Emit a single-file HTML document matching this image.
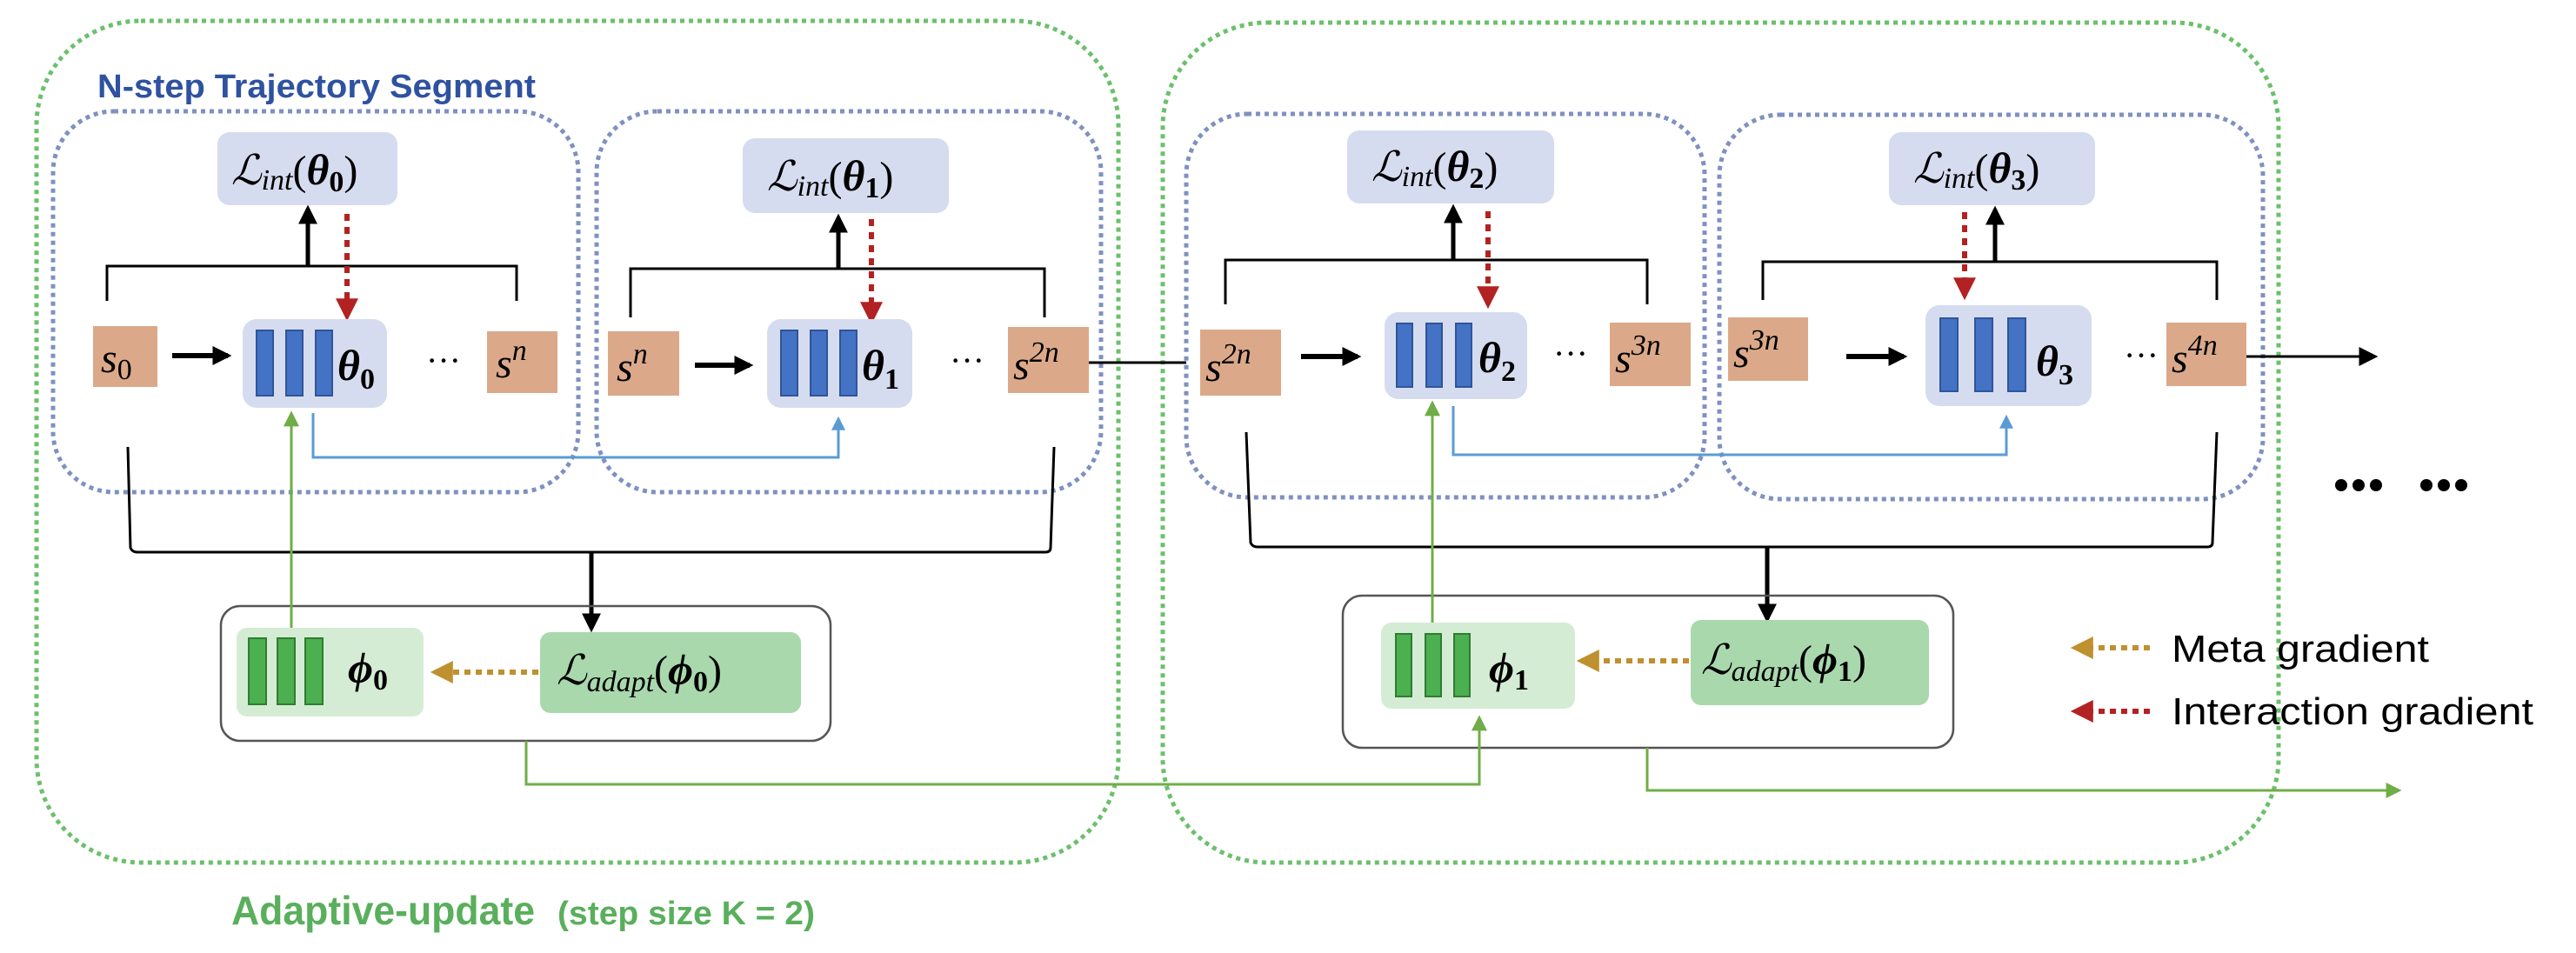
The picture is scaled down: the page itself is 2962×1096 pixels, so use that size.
<!DOCTYPE html>
<html><head><meta charset="utf-8"><style>
html,body{margin:0;padding:0;background:#fff;}
svg{display:block;}
.m{font-family:"Liberation Serif",serif;}
.s{font-family:"Liberation Serif",serif;font-style:italic;font-size:48px;fill:#000;}
.sup{font-style:italic;font-size:34px;}
.th{font-family:"Liberation Serif",serif;font-weight:bold;font-style:italic;font-size:50px;}
.sub{font-size:34px;font-weight:bold;font-style:normal;}
.L{font-family:"Liberation Serif",serif;font-size:48px;}
.sans{font-family:"Liberation Sans",sans-serif;}
</style></head><body>
<svg width="2962" height="1096" viewBox="0 0 2962 1096" xmlns="http://www.w3.org/2000/svg">
<defs>
<marker id="abk" viewBox="0 0 10 10" refX="8" refY="5" markerWidth="22" markerHeight="22" orient="auto" markerUnits="userSpaceOnUse"><path d="M0,0 L10,5 L0,10z" fill="#000"/></marker>
<marker id="ared" viewBox="0 0 10 10" refX="8" refY="5" markerWidth="26" markerHeight="26" orient="auto" markerUnits="userSpaceOnUse"><path d="M0,0 L10,5 L0,10z" fill="#b22222"/></marker>
<marker id="agold" viewBox="0 0 10 10" refX="8" refY="5" markerWidth="26" markerHeight="26" orient="auto" markerUnits="userSpaceOnUse"><path d="M0,0 L10,5 L0,10z" fill="#bf9030"/></marker>
<marker id="ablue" viewBox="0 0 10 10" refX="8" refY="5" markerWidth="16" markerHeight="16" orient="auto" markerUnits="userSpaceOnUse"><path d="M0,0 L10,5 L0,10z" fill="#5b9bd5"/></marker>
<marker id="agreen" viewBox="0 0 10 10" refX="8" refY="5" markerWidth="18" markerHeight="18" orient="auto" markerUnits="userSpaceOnUse"><path d="M0,0 L10,5 L0,10z" fill="#70ad47"/></marker>
</defs>

<rect x="42" y="24" width="1244" height="968" rx="120" fill="none" stroke="#6cc06c" stroke-width="5" stroke-dasharray="5 5"/>
<rect x="1337" y="26" width="1283" height="966" rx="120" fill="none" stroke="#6cc06c" stroke-width="5" stroke-dasharray="5 5"/>

<g fill="none" stroke="#7f91c0" stroke-width="5" stroke-dasharray="5 5">
<rect x="61" y="128" width="604" height="438" rx="70"/>
<rect x="686" y="128" width="580" height="438" rx="70"/>
<rect x="1364" y="131" width="596" height="441" rx="70"/>
<rect x="1977" y="132" width="625" height="442" rx="70"/>
</g>

<text x="112" y="112" class="sans" font-weight="bold" font-size="38" fill="#2f52a0" textLength="504" lengthAdjust="spacingAndGlyphs">N-step Trajectory Segment</text>

<g fill="#d6dcef">
<rect x="250" y="152" width="207" height="84" rx="14"/>
<rect x="854" y="159" width="237" height="86" rx="14"/>
<rect x="1549" y="150" width="238" height="84" rx="14"/>
<rect x="2172" y="152" width="237" height="84" rx="14"/>
</g>
<text x="266" y="212" class="L"><tspan font-style="italic">ℒ</tspan><tspan font-style="italic" font-size="34" dy="6">int</tspan><tspan dy="-6">(</tspan><tspan class="th">θ</tspan><tspan class="sub" dy="8">0</tspan><tspan dy="-8">)</tspan></text>
<text x="882" y="219" class="L"><tspan font-style="italic">ℒ</tspan><tspan font-style="italic" font-size="34" dy="6">int</tspan><tspan dy="-6">(</tspan><tspan class="th">θ</tspan><tspan class="sub" dy="8">1</tspan><tspan dy="-8">)</tspan></text>
<text x="1577" y="208" class="L"><tspan font-style="italic">ℒ</tspan><tspan font-style="italic" font-size="34" dy="6">int</tspan><tspan dy="-6">(</tspan><tspan class="th">θ</tspan><tspan class="sub" dy="8">2</tspan><tspan dy="-8">)</tspan></text>
<text x="2200" y="210" class="L"><tspan font-style="italic">ℒ</tspan><tspan font-style="italic" font-size="34" dy="6">int</tspan><tspan dy="-6">(</tspan><tspan class="th">θ</tspan><tspan class="sub" dy="8">3</tspan><tspan dy="-8">)</tspan></text>

<g fill="none" stroke="#000" stroke-width="3">
<path d="M123,346 V306 H594 V346"/>
<path d="M725,365 V309 H1201 V365"/>
<path d="M1409,350 V299 H1894 V350"/>
<path d="M2027,345 V301 H2549 V345"/>
</g>
<g stroke="#000" stroke-width="5">
<line x1="354" y1="306" x2="354" y2="240" marker-end="url(#abk)"/>
<line x1="964" y1="309" x2="964" y2="250" marker-end="url(#abk)"/>
<line x1="1671" y1="299" x2="1671" y2="239" marker-end="url(#abk)"/>
<line x1="2294" y1="301" x2="2294" y2="241" marker-end="url(#abk)"/>
</g>
<g stroke="#b22222" stroke-width="6" stroke-dasharray="8 7">
<line x1="399" y1="246" x2="399" y2="364" marker-end="url(#ared)"/>
<line x1="1002" y1="252" x2="1002" y2="368" marker-end="url(#ared)"/>
<line x1="1711" y1="243" x2="1711" y2="350" marker-end="url(#ared)"/>
<line x1="2259" y1="244" x2="2259" y2="340" marker-end="url(#ared)"/>
</g>

<g fill="#dba98a">
<rect x="107" y="375" width="74" height="70"/>
<rect x="560" y="381" width="81" height="71"/>
<rect x="699" y="381" width="82" height="74"/>
<rect x="1159" y="376" width="93" height="76"/>
<rect x="1380" y="379" width="93" height="76"/>
<rect x="1851" y="371" width="93" height="73"/>
<rect x="1987" y="365" width="92" height="73"/>
<rect x="2491" y="371" width="92" height="73"/>
</g>
<text x="116" y="428" class="s">s<tspan font-size="34" font-style="normal" dy="8">0</tspan></text>
<text x="570" y="434" class="s">s<tspan class="sup" dy="-20">n</tspan></text>
<text x="709" y="438" class="s">s<tspan class="sup" dy="-20">n</tspan></text>
<text x="1165" y="436" class="s">s<tspan class="sup" dy="-20" font-style="normal">2</tspan><tspan class="sup">n</tspan></text>
<text x="1386" y="438" class="s">s<tspan class="sup" dy="-20" font-style="normal">2</tspan><tspan class="sup">n</tspan></text>
<text x="1857" y="428" class="s">s<tspan class="sup" dy="-20" font-style="normal">3</tspan><tspan class="sup">n</tspan></text>
<text x="1993" y="422" class="s">s<tspan class="sup" dy="-20" font-style="normal">3</tspan><tspan class="sup">n</tspan></text>
<text x="2497" y="428" class="s">s<tspan class="sup" dy="-20" font-style="normal">4</tspan><tspan class="sup">n</tspan></text>

<g fill="#d6dcef">
<rect x="279" y="367" width="166" height="102" rx="16"/>
<rect x="882" y="367" width="167" height="102" rx="16"/>
<rect x="1592" y="359" width="164" height="100" rx="16"/>
<rect x="2214" y="351" width="191" height="116" rx="16"/>
</g>
<g fill="#4472c4" stroke="#2f559a" stroke-width="2">
<rect x="295" y="380" width="19" height="75"/><rect x="329" y="380" width="19" height="75"/><rect x="363" y="380" width="19" height="75"/>
<rect x="898" y="380" width="19" height="75"/><rect x="932" y="380" width="19" height="75"/><rect x="966" y="380" width="19" height="75"/>
<rect x="1606" y="372" width="18" height="73"/><rect x="1640" y="372" width="18" height="73"/><rect x="1674" y="372" width="18" height="73"/>
<rect x="2231" y="366" width="20" height="84"/><rect x="2271" y="366" width="20" height="84"/><rect x="2309" y="366" width="20" height="84"/>
</g>
<text x="388" y="437" class="th">θ<tspan class="sub" dy="10">0</tspan></text>
<text x="991" y="437" class="th">θ<tspan class="sub" dy="10">1</tspan></text>
<text x="1700" y="428" class="th">θ<tspan class="sub" dy="10">2</tspan></text>
<text x="2341" y="432" class="th">θ<tspan class="sub" dy="10">3</tspan></text>

<g font-size="40" class="m">
<text x="490" y="428" class="m">···</text>
<text x="1092" y="428" class="m">···</text>
<text x="1786" y="420" class="m">···</text>
<text x="2442" y="422" class="m">···</text>
</g>

<g stroke="#000" stroke-width="6">
<line x1="198" y1="409" x2="262" y2="409" marker-end="url(#abk)"/>
<line x1="799" y1="420" x2="862" y2="420" marker-end="url(#abk)"/>
<line x1="1496" y1="410" x2="1561" y2="410" marker-end="url(#abk)"/>
<line x1="2123" y1="410" x2="2189" y2="410" marker-end="url(#abk)"/>
</g>
<line x1="1252" y1="417" x2="1364" y2="417" stroke="#000" stroke-width="3"/>
<line x1="2583" y1="410" x2="2730" y2="410" stroke="#000" stroke-width="3" marker-end="url(#abk)"/>

<g fill="#000">
<circle cx="2692" cy="558" r="7"/><circle cx="2712" cy="558" r="7"/><circle cx="2732" cy="558" r="7"/>
<circle cx="2790" cy="558" r="7"/><circle cx="2810" cy="558" r="7"/><circle cx="2830" cy="558" r="7"/>
</g>

<g fill="none" stroke="#5b9bd5" stroke-width="3">
<path d="M360,475 V526 H964 V482" marker-end="url(#ablue)"/>
<path d="M1671,467 V523 H2307 V480" marker-end="url(#ablue)"/>
</g>

<g fill="none" stroke="#000" stroke-width="3">
<path d="M147,514 L150,630 Q152,635 158,635 H1202 Q1208,635 1208,630 L1212,514"/>
<path d="M1433,497 L1438,624 Q1440,629 1446,629 H2538 Q2544,629 2544,624 L2549,497"/>
</g>
<g stroke="#000" stroke-width="5">
<line x1="680" y1="635" x2="680" y2="723" marker-end="url(#abk)"/>
<line x1="2032" y1="629" x2="2032" y2="712" marker-end="url(#abk)"/>
</g>

<rect x="254" y="697" width="701" height="155" rx="22" fill="none" stroke="#555" stroke-width="2.5"/>
<rect x="1544" y="685" width="702" height="175" rx="22" fill="none" stroke="#555" stroke-width="2.5"/>
<rect x="272" y="722" width="215" height="102" rx="12" fill="#d5ecd4"/>
<rect x="621" y="727" width="300" height="93" rx="12" fill="#a9d8ad"/>
<rect x="1588" y="716" width="223" height="99" rx="12" fill="#d5ecd4"/>
<rect x="1944" y="713" width="274" height="98" rx="12" fill="#a9d8ad"/>
<g fill="#4caf50" stroke="#2e7d32" stroke-width="2">
<rect x="286" y="734" width="20" height="76"/><rect x="319" y="734" width="20" height="76"/><rect x="351" y="734" width="20" height="76"/>
<rect x="1605" y="729" width="18" height="72"/><rect x="1639" y="729" width="18" height="72"/><rect x="1672" y="729" width="18" height="72"/>
</g>
<text x="400" y="785" class="th">ϕ<tspan class="sub" dy="8">0</tspan></text>
<text x="1712" y="785" class="th">ϕ<tspan class="sub" dy="8">1</tspan></text>
<text x="640" y="787" class="L"><tspan font-style="italic">ℒ</tspan><tspan font-style="italic" font-size="34" dy="8">adapt</tspan><tspan dy="-8">(</tspan><tspan class="th">ϕ</tspan><tspan class="sub" dy="8">0</tspan><tspan dy="-8">)</tspan></text>
<text x="1956" y="775" class="L"><tspan font-style="italic">ℒ</tspan><tspan font-style="italic" font-size="34" dy="8">adapt</tspan><tspan dy="-8">(</tspan><tspan class="th">ϕ</tspan><tspan class="sub" dy="8">1</tspan><tspan dy="-8">)</tspan></text>

<g stroke="#bf9030" stroke-width="6" stroke-dasharray="7 6">
<line x1="619" y1="773" x2="500" y2="773" marker-end="url(#agold)"/>
<line x1="1942" y1="760" x2="1818" y2="760" marker-end="url(#agold)"/>
<line x1="2472" y1="745" x2="2386" y2="745" marker-end="url(#agold)"/>
</g>
<line x1="2472" y1="818" x2="2386" y2="818" stroke="#b22222" stroke-width="6" stroke-dasharray="7 6" marker-end="url(#ared)"/>

<g fill="none" stroke="#70ad47" stroke-width="3">
<line x1="335" y1="722" x2="335" y2="476" marker-end="url(#agreen)"/>
<line x1="1647" y1="716" x2="1647" y2="464" marker-end="url(#agreen)"/>
<path d="M605,852 V902 H1701 V826" marker-end="url(#agreen)"/>
<path d="M1894,860 V909 H2758" marker-end="url(#agreen)"/>
</g>

<text x="2497" y="761" class="sans" font-size="44" fill="#000" textLength="296" lengthAdjust="spacingAndGlyphs">Meta gradient</text>
<text x="2497" y="833" class="sans" font-size="44" fill="#000" textLength="416" lengthAdjust="spacingAndGlyphs">Interaction gradient</text>

<text x="266" y="1063" class="sans" font-weight="bold" fill="#5aaf5c" font-size="46" textLength="349" lengthAdjust="spacingAndGlyphs">Adaptive-update</text>
<text x="641" y="1063" class="sans" font-weight="bold" fill="#5aaf5c" font-size="38" textLength="296" lengthAdjust="spacingAndGlyphs">(step size K = 2)</text>
</svg>
</body></html>
